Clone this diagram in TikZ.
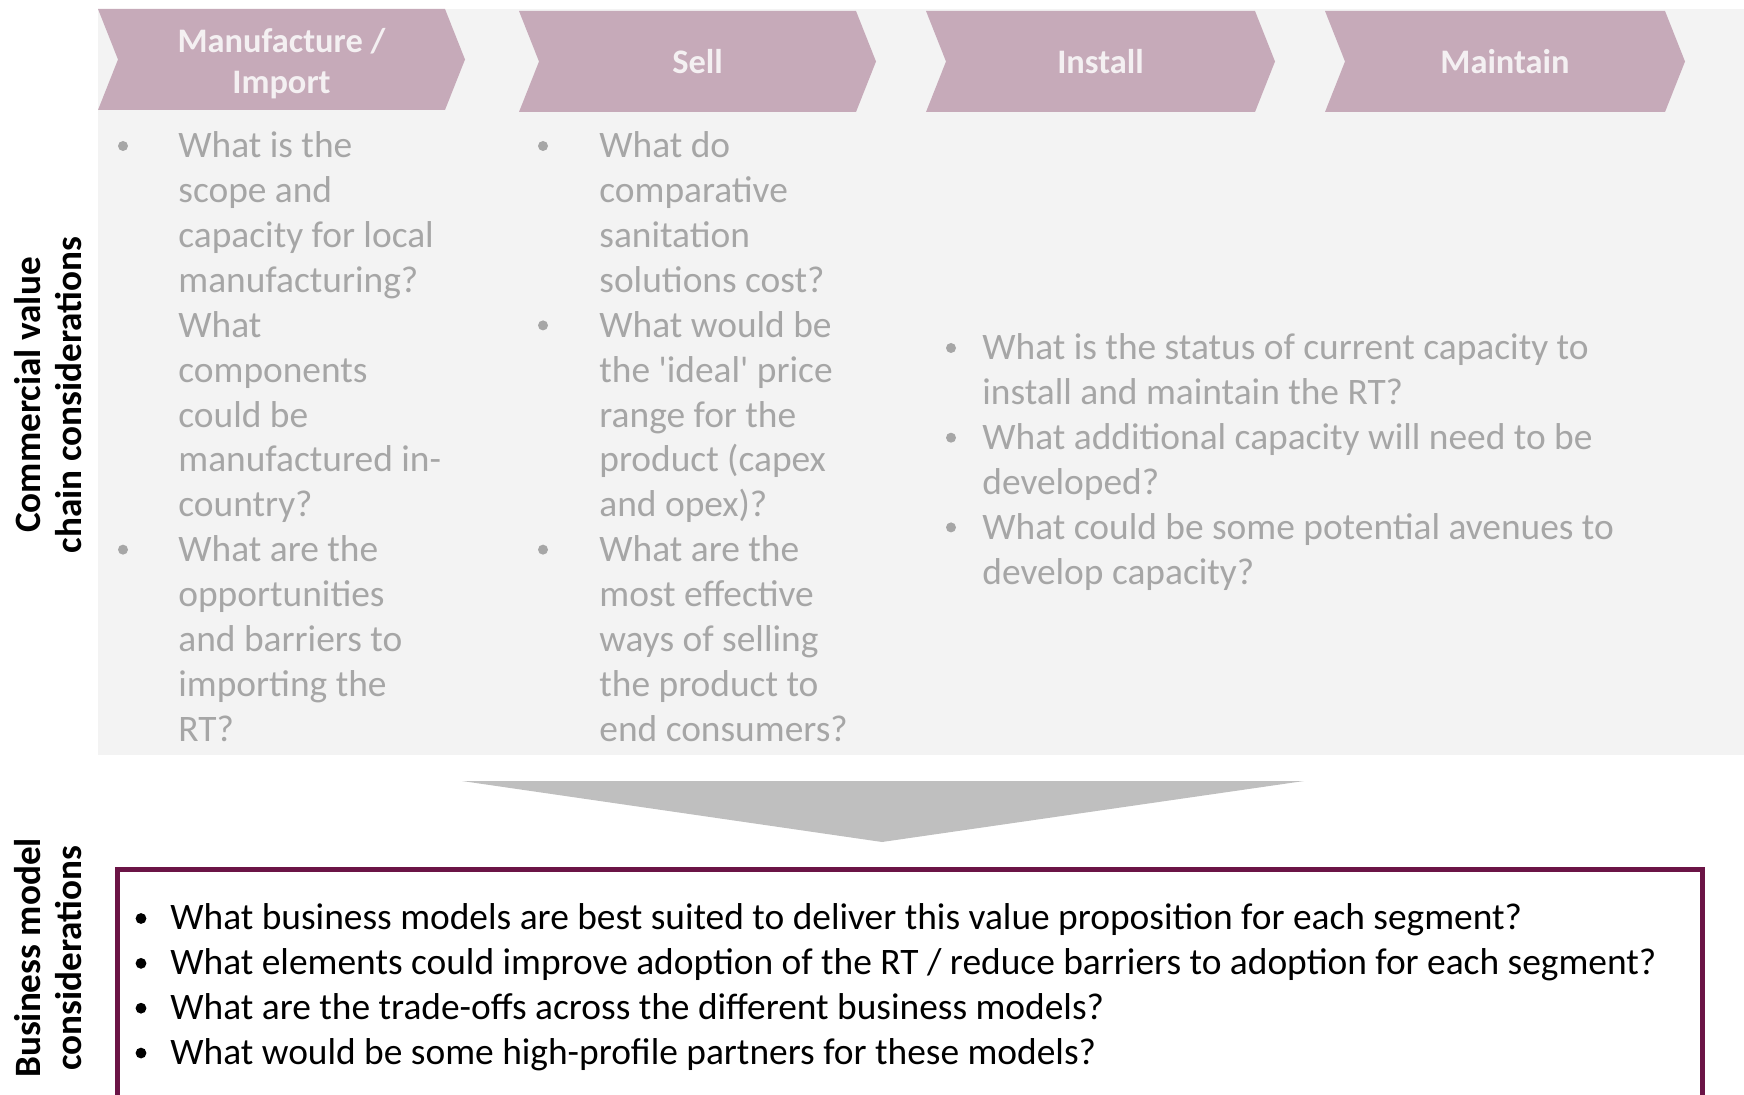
\documentclass[tikz,border=0pt]{standalone}
\usepackage{fontspec}
\setmainfont{Carlito}
\definecolor{bgc}{HTML}{F3F3F3}
\definecolor{chevc}{HTML}{C6AAB9}
\definecolor{hdrtxt}{HTML}{F4F0F2}
\definecolor{txtgray}{HTML}{A6A6A6}
\definecolor{arrowc}{HTML}{BFBFBF}
\definecolor{boxc}{HTML}{6B1446}
\begin{document}
\begin{tikzpicture}[x=0.5pt,y=-0.5pt,
  body/.style={font=\fontsize{18.7}{22}\selectfont, text=txtgray, inner sep=0pt, anchor=base west},
  btext/.style={font=\fontsize{18.7}{22}\selectfont, text=black, inner sep=0pt, anchor=base west},
  hdr/.style={font=\bfseries\fontsize{17.2}{20.5}\selectfont, text=hdrtxt, align=center, inner sep=0pt},
  side/.style={font=\bfseries\fontsize{18.6}{20.5}\selectfont, align=center, rotate=90, inner sep=0pt},
  chev/.style={fill=chevc},
  gbul/.style={fill=txtgray},
  kbul/.style={fill=black}]
\useasboundingbox (0,0) rectangle (1744,1095);
\clip (0,0) rectangle (1744,1095);
% background panel
\fill[bgc] (98,9) rectangle (1744,755);
% chevrons
\fill[chev] (98,9) -- (445,9) -- (465,59.5) -- (445,110) -- (98,110) -- (118,59.5) -- cycle;
\fill[chev] (519,11) -- (856,11) -- (876,61.5) -- (856,112) -- (519,112) -- (539,61.5) -- cycle;
\fill[chev] (926,11) -- (1255,11) -- (1275,61.5) -- (1255,112) -- (926,112) -- (946,61.5) -- cycle;
\fill[chev] (1325,11) -- (1665,11) -- (1685,61.5) -- (1665,112) -- (1325,112) -- (1345,61.5) -- cycle;
\node[hdr] (h1) at (281.5,63.5) {Manufacture /\\Import};
\node[hdr] (h2) at (697.5,62) {Sell};
\node[hdr] (h3) at (1100.5,62) {Install};
\node[hdr] (h4) at (1505,62) {Maintain};
% side labels
\node[side] (s1) at (48,395) {Commercial value\\chain considerations};
\node[side] (s2) at (48,958) {Business model\\considerations};
% column 1
\foreach \t [count=\i from 0] in {What is the, scope and, capacity for local, manufacturing?, What, components, could be, manufactured in-, country?, What are the, opportunities, and barriers to, importing the, RT?}
  \node[body] (ca\i) at (178,158+44.85*\i) {\t};
\foreach \i in {0,9} \fill[gbul] (123,146+44.85*\i) circle[radius=2.5pt];
% column 2
\foreach \t [count=\i from 0] in {What do, comparative, sanitation, solutions cost?, What would be, the \textquotesingle ideal\textquotesingle\ price, range for the, product (capex, and opex)?, What are the, most effective, ways of selling, the product to, end consumers?}
  \node[body] (cb\i) at (599,158+44.85*\i) {\t};
\foreach \i in {0,4,9} \fill[gbul] (543,146+44.85*\i) circle[radius=2.5pt];
% column 3
\foreach \t [count=\i from 0] in {What is the status of current capacity to, install and maintain the RT?, What additional capacity will need to be, developed?, What could be some potential avenues to, develop capacity?}
  \node[body] (cc\i) at (982,360+44.85*\i) {\t};
\foreach \i in {0,2,4} \fill[gbul] (951,348+44.85*\i) circle[radius=2.5pt];
% big arrow
\fill[arrowc] (462,781) -- (1304,781) -- (882,842) -- cycle;
% bottom box
\draw[boxc, line width=2.5pt] (117.5,1110) -- (117.5,869.5) -- (1702.5,869.5) -- (1702.5,1110);
\foreach \t [count=\i from 0] in {What business models are best suited to deliver this value proposition for each segment?, What elements could improve adoption of the RT / reduce barriers to adoption for each segment?, What are the trade-offs across the different business models?, What would be some high-profile partners for these models?}
  \node[btext] (bm\i) at (170,929.5+44.85*\i) {\t};
\foreach \i in {0,1,2,3} \fill[kbul] (141,918.5+44.85*\i) circle[radius=2.7pt];
\end{tikzpicture}
\end{document}
